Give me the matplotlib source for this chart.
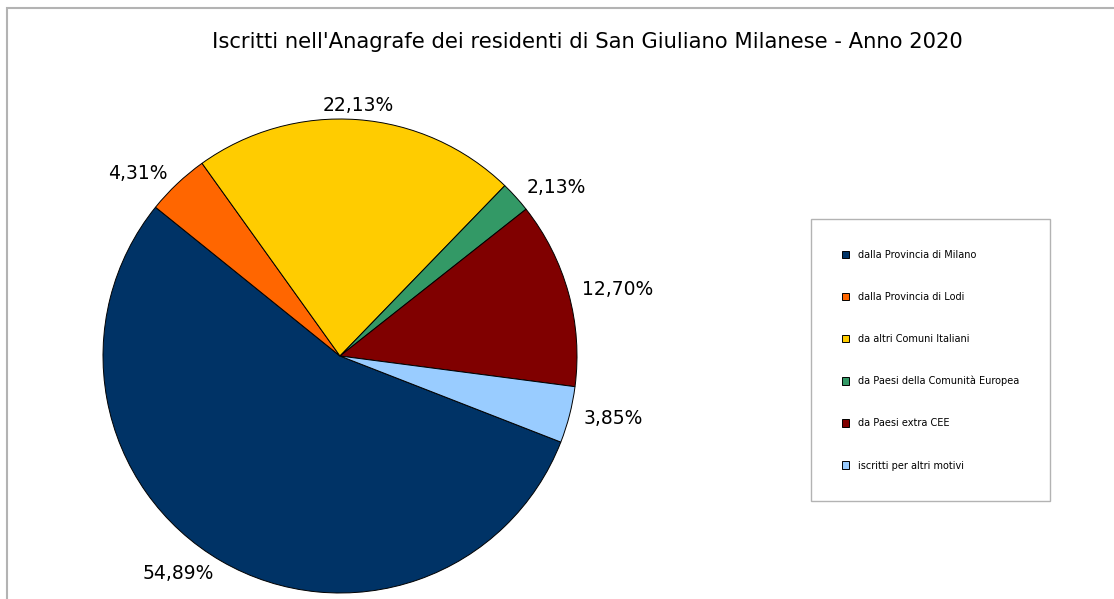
import numpy as np
import matplotlib
matplotlib.use('Agg')
import matplotlib.pyplot as plt
from matplotlib.patches import Rectangle

categories = ['dalla Provincia di Milano', 'dalla Provincia di Lodi', 'da altri Comuni Italiani',
              'da Paesi della Comunità Europea', 'da Paesi extra CEE', 'iscritti per altri motivi']
shares = [54.89, 4.31, 22.13, 2.13, 12.70, 3.85]
labels = ['54,89%', '4,31%', '22,13%', '2,13%', '12,70%', '3,85%']
colors = ['#003366', '#ff6600', '#ffcc00', '#339966', '#800000', '#99ccff']

W, H = 1114, 599
fig = plt.figure(figsize=(W / 100, H / 100), dpi=100)
plt.rcParams['font.family'] = ['DejaVu Sans']

# outer frame (only top and left visible in the crop)
fig.patches.append(Rectangle((7 / W, -0.5), 2, 1.5 - 8 / H, transform=fig.transFigure,
                             fill=False, edgecolor='#b3b3b3', linewidth=1.5))

fig.text(587 / W, 1 - 42 / H, "Iscritti nell'Anagrafe dei residenti di San Giuliano Milanese - Anno 2020",
         ha='center', va='center', fontsize=15.2)

cx, cy, r = 340, 356, 237
ax = fig.add_axes([(cx - r) / W, (H - cy - r) / H, 2 * r / W, 2 * r / H])
wedges, texts = ax.pie(shares, colors=colors, labels=labels, startangle=-21.3, counterclock=False,
                       radius=1, labeldistance=1.06,
                       wedgeprops=dict(edgecolor='black', linewidth=0.7),
                       textprops=dict(fontsize=13.5))
for w, t in zip(wedges, texts):
    ang = np.deg2rad((w.theta1 + w.theta2) / 2)
    if abs(np.cos(ang)) < 0.2:
        t.set_ha('center')
ax.set_xlim(-1, 1)
ax.set_ylim(-1, 1)
ax.set_aspect('equal')
ax.axis('off')

leg = fig.legend(wedges, categories, loc='upper left',
                 bbox_to_anchor=(811 / W, 1 - 219 / H), frameon=True, fancybox=False,
                 edgecolor='#a0a0a0', fontsize=7, labelspacing=3.3,
                 handlelength=0.8, handleheight=0.8, handletextpad=0.9,
                 borderpad=3.15, borderaxespad=0)
leg.get_frame().set_linewidth(1.0)
for h in leg.legend_handles:
    h.set_linewidth(0.7)

fig.savefig('out.png', dpi=100)
